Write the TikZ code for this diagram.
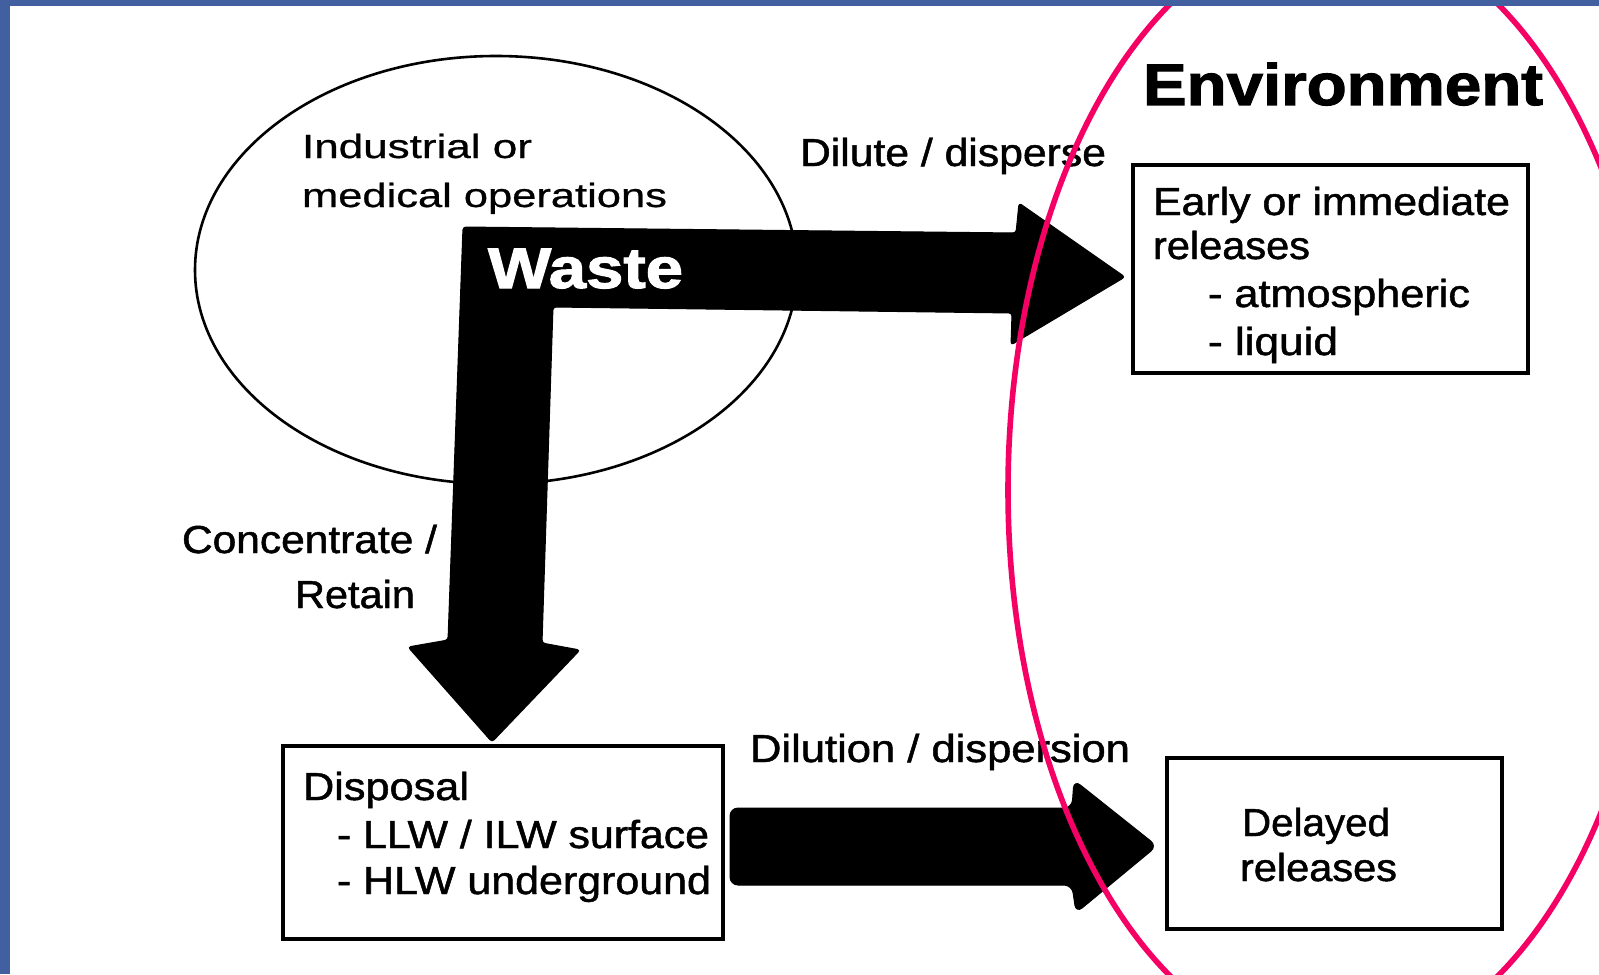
\documentclass[tikz,border=0pt]{standalone}
\usepackage{fontspec}
\setmainfont{Liberation Sans}
\newfontfamily\semib[FakeBold=1.2]{Liberation Sans}
\newfontfamily\lightb[FakeBold=0.6]{Liberation Sans}
\newfontfamily\heavyb[FakeBold=1.8]{Liberation Sans Bold}
\usepackage{graphicx}
\newlength\px \setlength\px{0.5pt}
\newcommand\tw[2]{\resizebox{#1\px}{\height}{#2}}
\definecolor{slideblue}{RGB}{66,96,160}
\definecolor{envpink}{RGB}{245,0,100}
\tikzset{
  lbl/.style={inner sep=0pt, outer sep=0pt, anchor=base west, font=\semib\fontsize{19.5pt}{23pt}\selectfont},
  opl/.style={lbl, font=\lightb\fontsize{16.8pt}{20pt}\selectfont},
  big/.style={lbl, font=\heavyb\fontsize{29.3pt}{34pt}\selectfont},
  wst/.style={lbl, text=white, font=\heavyb\fontsize{28.6pt}{34pt}\selectfont},
  boxx/.style={draw=black, line width=1.7pt},
  fatarrow/.style={fill=black, draw=black, line width=0.5pt, rounded corners=1.5pt}
}
\begin{document}
\begin{tikzpicture}[x=0.5pt, y=-0.5pt]
\useasboundingbox (0,0) rectangle (1599,974);
\fill[white] (0,0) rectangle (1599,974);
\begin{scope}
\clip (0,0) rectangle (1599,974);
% operations ellipse
\draw[line width=1.3pt] (496,270) ellipse [x radius=301, y radius=214];
% L-shaped waste arrow
\draw[fatarrow] (463,227) -- (1016,233) -- (1019,203) -- (1125,277) -- (1011,345) -- (1012,313)
  -- (553,307) -- (542,643) -- (580,650) -- (492,742) -- (408,647) -- (448,640) -- cycle;
% bottom arrow
\draw[fatarrow, rounded corners=4pt] (730,808) -- (1072,808) -- (1074,780) -- (1157,846) -- (1076,913) -- (1072,885) -- (730,885) -- cycle;
% boxes
\draw[boxx] (1133,165) rectangle (1528,373);
\draw[boxx] (283,746) rectangle (723,939);
\draw[boxx] (1167,758) rectangle (1502,929);
% texts
\node[opl] (ind) at (302,158) {\tw{230}{Industrial or}};
\node[opl] (med) at (302,207) {\tw{365}{medical operations}};
\node[wst] (waste) at (488,288) {\tw{195}{Waste}};
\node[lbl] (dil) at (800,166) {\tw{306}{Dilute / disperse}};
\node[big] (env) at (1143,105) {\tw{400}{Environment}};
\node[lbl] (e1) at (1153,215) {\tw{357}{Early or immediate}};
\node[lbl] (e2) at (1153,259) {\tw{157}{releases}};
\node[lbl] (e3) at (1208,307) {\tw{262}{- atmospheric}};
\node[lbl] (e4) at (1208,355) {\tw{130}{- liquid}};
\node[lbl] (c1) at (182,553) {\tw{255}{Concentrate /}};
\node[lbl] (c2) at (295,608) {\tw{120}{Retain}};
\node[lbl] (d1) at (303,800) {\tw{166}{Disposal}};
\node[lbl] (d2) at (337,848) {\tw{372}{- LLW / ILW surface}};
\node[lbl] (d3) at (337,894) {\tw{374}{- HLW underground}};
\node[lbl] (dd) at (750,762) {\tw{380}{Dilution / dispersion}};
\node[lbl] (r1) at (1242,836) {\tw{148}{Delayed}};
\node[lbl] (r2) at (1240,881) {\tw{157}{releases}};
% environment ellipse
\draw[envpink, line width=2.8pt] (1334,490) ellipse [x radius=326, y radius=562];
\end{scope}
% slide border strips
\fill[slideblue] (0,0) rectangle (10,974);
\fill[slideblue] (0,0) rectangle (1599,6);
\end{tikzpicture}
\end{document}
